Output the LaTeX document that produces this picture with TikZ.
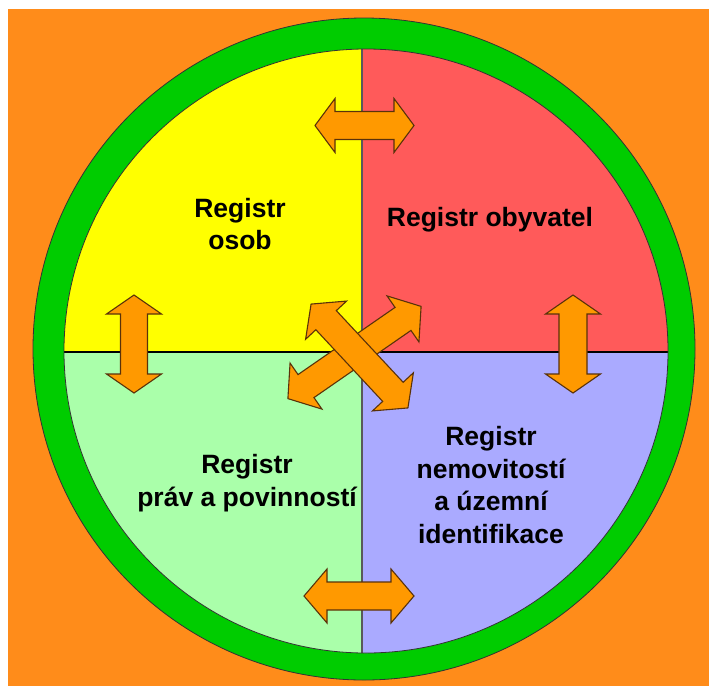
\documentclass[tikz,border=0pt]{standalone}
\usepackage{fontspec}
\setmainfont{Liberation Sans}
\begin{document}
\definecolor{bgorange}{RGB}{255,140,26}
\definecolor{ringgreen}{RGB}{0,204,0}
\definecolor{qyellow}{RGB}{255,255,0}
\definecolor{qred}{RGB}{255,90,90}
\definecolor{qgreen}{RGB}{170,255,170}
\definecolor{qblue}{RGB}{170,170,255}
\definecolor{arrowfill}{RGB}{255,153,0}
\definecolor{arrowedge}{RGB}{90,50,10}
\tikzset{
  arrowbody/.style={fill=arrowfill, draw=arrowedge, line width=1.1pt, line join=miter},
  label/.style={font=\bfseries\fontsize{26.5}{32.5}\selectfont, align=center, inner sep=0pt},
}
% double-headed block arrow: centre x, centre y, rotation, half length, shaft half width, head half width, head length
\newcommand\twowayarrow[7]{%
  \begin{scope}[shift={(#1,#2)}, rotate=#3]
    \draw[arrowbody] (-#4,0) -- (-#4+#7,#6) -- (-#4+#7,#5) -- (#4-#7,#5) -- (#4-#7,#6)
      -- (#4,0) -- (#4-#7,-#6) -- (#4-#7,-#5) -- (-#4+#7,-#5) -- (-#4+#7,-#6) -- cycle;
  \end{scope}}
\begin{tikzpicture}[x=1pt,y=-1pt]
  \useasboundingbox (0,0) rectangle (709,686);
  \fill[white] (0,0) rectangle (709,686);
  \fill[bgorange] (8,9) rectangle (709,686);

  % outer ring
  \draw[fill=ringgreen, draw=black!80, line width=0.8pt] (364,349) circle[radius=331];

  % four quadrants
  \begin{scope}
    \clip (366,351) circle[radius=302];
    \fill[qyellow] (0,0) rectangle (362,352);
    \fill[qred] (362,0) rectangle (709,352);
    \fill[qgreen] (0,352) rectangle (362,686);
    \fill[qblue] (362,352) rectangle (709,686);
    \draw[black!65, line width=1.3pt] (362,0) -- (362,686);
    \draw[black, line width=2.8pt] (0,352) -- (709,352);
  \end{scope}
  \draw[black!80, line width=0.8pt] (366,351) circle[radius=302];

  % labels
  \node[label] (osob) at (240,224) {Registr\\osob};
  \node[label] (obyv) at (490,220) {Registr obyvatel};
  \node[label] (prav) at (247,483) {Registr\\práv a povinností};
  \node[label] (nemo) at (491,485) {Registr\\nemovitostí\\a územní\\identifikace};

  % arrows between neighbouring registers
  \twowayarrow{364.5}{125.5}{0}{49.5}{14}{27}{20}
  \twowayarrow{359}{596}{0}{55}{14}{27}{23}
  \twowayarrow{134}{344}{90}{49}{13.5}{27.5}{19}
  \twowayarrow{573}{344}{90}{49}{14}{27.5}{19}

  % crossing arrows through the centre
  \twowayarrow{354.5}{352.5}{34.7}{81}{14}{28}{22}
  \twowayarrow{359.5}{356}{-47}{71}{14}{28}{22}
\end{tikzpicture}
\end{document}
